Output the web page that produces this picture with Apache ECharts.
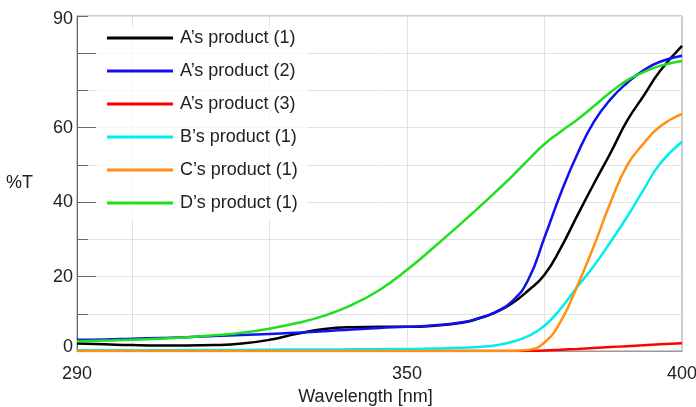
<!DOCTYPE html>
<html>
<head>
<meta charset="utf-8">
<script src="https://cdn.jsdelivr.net/npm/echarts@6/dist/echarts.min.js"></script>
<style>
html,body{margin:0;padding:0;background:#fff;}
#chart{width:696px;height:407px;}
</style>
</head>
<body>
<div id="chart"></div>
<script>
// ---- data ----
const wavelengths = [290,295,300,305,310,315,320,325,330,335,340,345,350,355,360,363,366,369,372,375,378,381,384,387,390,393,396,400];
const seriesNames = ['A\u2019s product (1)','A\u2019s product (2)','A\u2019s product (3)','B\u2019s product (1)','C\u2019s product (1)','D\u2019s product (1)'];
const aProduct1 = [2.0,1.8,1.6,1.5,1.5,1.6,2.0,3.0,4.6,5.9,6.4,6.5,6.5,6.8,7.6,8.7,10.3,12.7,16.2,20.5,27.8,36.5,45.0,53.2,61.8,68.5,75.2,82.0];
const aProduct2 = [3.0,3.1,3.3,3.5,3.7,4.0,4.3,4.6,4.9,5.3,5.8,6.2,6.5,6.9,7.7,8.8,10.4,13.2,19.0,30.5,42.5,53.0,61.6,67.6,72.0,75.4,77.7,79.3];
const aProduct3 = [0,0,0,0,0,0,0,0,0,0,0,0,0,0,0,0,0,0,0.05,0.15,0.35,0.55,0.8,1.05,1.3,1.55,1.8,2.1];
const bProduct1 = [0.2,0.2,0.2,0.2,0.25,0.3,0.3,0.35,0.4,0.4,0.45,0.5,0.55,0.65,0.85,1.1,1.5,2.4,4.0,6.8,11.5,17.3,22.9,29.3,36.0,43.3,50.3,56.2];
const cProduct1 = [0,0,0,0,0,0,0,0,0,0,0,0,0,0,0,0,0,0,0.3,2.3,8.1,17.6,28.3,39.9,49.8,55.7,60.3,63.7];
const dProduct1 = [2.6,2.8,3.0,3.3,3.7,4.2,4.9,6.0,7.5,9.5,12.4,16.4,21.8,28.0,34.5,38.5,42.6,46.8,51.3,55.6,59.0,62.2,65.8,69.5,72.7,74.9,76.6,77.9];
const seriesValues = [aProduct1,aProduct2,aProduct3,bProduct1,cProduct1,dProduct1];
const seriesColors = ['#000000','#1010f0','#ff0000','#00eeee','#ff9010','#1ee01e'];
const xTickLabels = [290,350,400];
const xGridValues = [300,325,350,375];
const yTickLabels = [0,20,40,60,90];

const FONT = 'Liberation Sans, Arial, sans-serif';
const chart = echarts.init(document.getElementById('chart'), null, {renderer:'canvas'});

const series = seriesNames.map((name,i)=>{
  const s = {
    name: name,
    type: 'line',
    xAxisIndex: 0,
    yAxisIndex: 0,
    data: wavelengths.map((w,j)=>[w, seriesValues[i][j]]),
    showSymbol: false,
    symbol: 'none',
    smooth: 0.5,
    z: 3,
    lineStyle: {color: seriesColors[i], width: 2.5},
    itemStyle: {color: seriesColors[i]},
    emphasis: {disabled: true}
  };
  if (i === 0) {
    s.markLine = {
      silent: true,
      z: 1,
      symbol: ['none','none'],
      label: {show: false},
      lineStyle: {color: '#e2e2e2', width: 1, type: 'solid'},
      emphasis: {disabled: true},
      animation: false,
      data: xGridValues.map(v=>({xAxis: v}))
    };
  }
  return s;
});

chart.setOption({
  animation: false,
  backgroundColor: '#fff',
  textStyle: {fontFamily: FONT},
  grid: {left: 77, right: 14, top: 16, bottom: 56, show: true, borderColor: '#999', borderWidth: 1,
         backgroundColor: 'transparent', containLabel: false, outerBoundsMode: 'none'},
  legend: {
    orient: 'vertical',
    left: 97, top: 26,
    padding: [2,10,8,10],
    itemWidth: 66, itemHeight: 3, itemGap: 13,
    icon: 'rect',
    selectedMode: false,
    backgroundColor: 'rgba(255,255,255,0.75)',
    textStyle: {fontSize: 18, color: '#222', lineHeight: 20, fontFamily: FONT, padding: [0,0,0,2]},
    data: seriesNames
  },
  xAxis: [{
    type: 'value', min: 290, max: 400, position: 'bottom',
    axisLine: {show: true, lineStyle: {color: '#999', width: 1}},
    axisTick: {show: true, inside: true, length: 16, customValues: [300,350], lineStyle: {color: '#777'}},
    axisLabel: {customValues: xTickLabels, margin: 14, color: '#222', fontSize: 18, fontFamily: FONT},
    splitLine: {show: false},
    name: 'Wavelength [nm]', nameLocation: 'middle', nameGap: 36,
    nameTextStyle: {fontSize: 18, color: '#222', fontFamily: FONT, padding: [0,28,0,0]}
  },{
    type: 'value', min: 290, max: 400, position: 'bottom',
    axisLine: {show: false},
    axisTick: {show: true, inside: true, length: 8, customValues: [375], lineStyle: {color: '#777'}},
    axisLabel: {show: false},
    splitLine: {show: false}
  }],
  yAxis: [{
    type: 'value', min: 0, max: 90, interval: 10, position: 'left',
    axisLine: {show: true, lineStyle: {color: '#666', width: 1}},
    axisTick: {show: true, inside: true, length: 11, lineStyle: {color: '#666'}},
    axisLabel: {
      customValues: yTickLabels, margin: 4, color: '#222', fontSize: 18, fontFamily: FONT,
      formatter: v => v === 0 ? '{lo|0}' : (v === 90 ? '{hi|90}' : String(v)),
      rich: {
        lo: {fontSize: 18, color: '#222', fontFamily: FONT, padding: [0,0,8,0]},
        hi: {fontSize: 18, color: '#222', fontFamily: FONT, padding: [7,0,0,0]}
      }
    },
    splitLine: {show: true, lineStyle: {color: '#e2e2e2', width: 1}},
    name: '%T', nameLocation: 'middle', nameRotate: 0, nameGap: 44,
    nameTextStyle: {fontSize: 18, color: '#222', fontFamily: FONT, padding: [4,0,0,0]}
  },{
    type: 'value', min: 0, max: 90, position: 'left',
    axisLine: {show: false},
    axisTick: {show: true, inside: true, length: 19, customValues: [20,40,60,80], lineStyle: {color: '#666'}},
    axisLabel: {show: false},
    splitLine: {show: false}
  }],
  series: series
});
</script>
</body>
</html>
